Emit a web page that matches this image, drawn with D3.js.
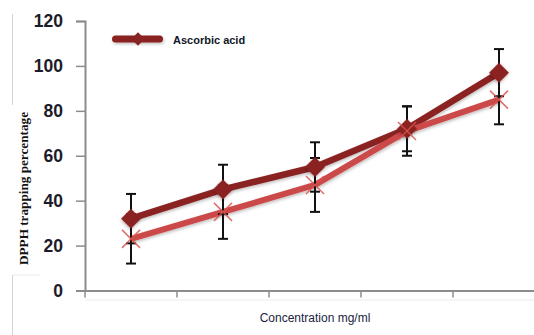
<!DOCTYPE html>
<html>
<head>
<meta charset="utf-8">
<script src="https://cdn.jsdelivr.net/npm/d3@7"></script>
<style>
  html, body { margin: 0; padding: 0; background: #fff; }
  svg { display: block; }
</style>
</head>
<body>
<svg id="chart" width="534" height="335"></svg>
<script>
// ---- data ----
const categories = ["1", "2", "3", "4", "5"];
const ascorbicValues = [32, 45, 55, 72, 97];
const ascorbicErrors = [11, 11, 11, 10, 10.5];
const sampleValues = [23, 35, 47, 71, 85];
const sampleErrors = [11, 12, 12, 11, 11];
const yTicks = [0, 20, 40, 60, 80, 100, 120];
const legendLabel = "Ascorbic acid";
const xTitle = "Concentration mg/ml";
const yTitle = "DPPH trapping percentage";

(function () {
// ---- layout ----
const svg = d3.select("#chart");
const plotLeft = 85, plotRight = 545, plotTop = 21, plotBottom = 290.5;
const darkRed = "#8a2424";
const lightRed = "#cc4a48";

const x = d3.scaleBand().domain(categories).range([plotLeft, plotRight]).paddingInner(0).paddingOuter(0);
const cx = d => x(d) + x.bandwidth() / 2;
const y = d3.scaleLinear().domain([0, 120]).range([plotBottom, plotTop]);

// frame line at far left
svg.append("line").attr("x1", 12.5).attr("x2", 12.5).attr("y1", 14).attr("y2", 105)
  .attr("stroke", "#d4d4d4").attr("stroke-width", 1);
svg.append("line").attr("x1", 12.5).attr("x2", 12.5).attr("y1", 275).attr("y2", 335)
  .attr("stroke", "#d4d4d4").attr("stroke-width", 1);
svg.append("line").attr("x1", 12.5).attr("x2", 40).attr("y1", 275).attr("y2", 275)
  .attr("stroke", "#ececec").attr("stroke-width", 1);

// faint line below x axis
svg.append("line").attr("x1", plotLeft).attr("x2", 534).attr("y1", 300).attr("y2", 300)
  .attr("stroke", "#ececec").attr("stroke-width", 1);

// y axis
const yAxis = svg.append("g").attr("transform", `translate(${plotLeft},0)`)
  .call(d3.axisLeft(y).tickValues(yTicks).tickSize(9).tickPadding(13).tickFormat(d3.format("d")));
yAxis.select(".domain").attr("stroke", "#8c8c8c").attr("stroke-width", 2);
yAxis.selectAll(".tick line").attr("stroke", "#8c8c8c").attr("stroke-width", 1.5);
yAxis.selectAll(".tick text")
  .attr("font-family", "Liberation Sans, Arial, sans-serif")
  .attr("font-size", 17.5).attr("font-weight", "bold").attr("fill", "#1b1b2a");

// x axis
const xAxis = svg.append("g").attr("transform", `translate(0,${plotBottom})`)
  .call(d3.axisBottom(x).tickSize(0).tickFormat(""));
xAxis.select(".domain").attr("stroke", "#8c8c8c").attr("stroke-width", 2);
xAxis.selectAll(".tick").remove();
const boundaries = categories.map(c => x(c));
xAxis.selectAll(".btick").data(boundaries).enter().append("line")
  .attr("x1", d => d).attr("x2", d => d).attr("y1", 0).attr("y2", 7)
  .attr("stroke", "#8c8c8c").attr("stroke-width", 1.5);

// titles
svg.append("text").attr("x", 315).attr("y", 322).attr("text-anchor", "middle")
  .attr("font-family", "Liberation Sans, Arial, sans-serif").attr("font-size", 12)
  .attr("fill", "#1b2440").text(xTitle);
svg.append("text")
  .attr("transform", "translate(28,188.5) rotate(-90)")
  .attr("text-anchor", "middle")
  .attr("font-family", "Liberation Serif, Times New Roman, serif").attr("font-size", 11.5)
  .attr("font-weight", "bold").attr("fill", "#111")
  .attr("textLength", 153).attr("lengthAdjust", "spacingAndGlyphs")
  .text(yTitle);

// shadow filter
const defs = svg.append("defs");
const f = defs.append("filter").attr("id", "sh").attr("x", "-50%").attr("y", "-50%").attr("width", "200%").attr("height", "200%");
f.append("feDropShadow").attr("dx", 1).attr("dy", 1.5).attr("stdDeviation", 1.5)
  .attr("flood-color", "#000").attr("flood-opacity", 0.25);

const line = d3.line().x((d, i) => cx(categories[i])).y(d => y(d));

// lines
svg.append("path").datum(ascorbicValues).attr("d", line)
  .attr("fill", "none").attr("stroke", darkRed).attr("stroke-width", 6.5)
  .attr("stroke-linejoin", "round").attr("filter", "url(#sh)");
svg.append("path").datum(sampleValues).attr("d", line)
  .attr("fill", "none").attr("stroke", lightRed).attr("stroke-width", 6)
  .attr("stroke-linejoin", "round").attr("filter", "url(#sh)");

// error bars
function errorBars(vals, errs) {
  const g = svg.append("g").attr("stroke", "#111").attr("stroke-width", 2);
  vals.forEach((v, i) => {
    const xc = cx(categories[i]);
    const hi = y(v + errs[i]), lo = y(v - errs[i]);
    g.append("line").attr("x1", xc).attr("x2", xc).attr("y1", hi).attr("y2", lo);
    g.append("line").attr("x1", xc - 5).attr("x2", xc + 5).attr("y1", hi).attr("y2", hi);
    g.append("line").attr("x1", xc - 5).attr("x2", xc + 5).attr("y1", lo).attr("y2", lo);
  });
}
errorBars(ascorbicValues, ascorbicErrors);
errorBars(sampleValues, sampleErrors);

// diamond markers
const diamond = d3.symbol().type(d3.symbolSquare).size(200);
svg.append("g").selectAll("path").data(ascorbicValues).enter().append("path")
  .attr("d", diamond)
  .attr("transform", (d, i) => `translate(${cx(categories[i])},${y(d)}) rotate(45)`)
  .attr("fill", darkRed).attr("filter", "url(#sh)");

// x markers
const xs = svg.append("g").attr("stroke", "#d9534f").attr("stroke-width", 1.5).attr("stroke-opacity", 0.85);
sampleValues.forEach((v, i) => {
  const xc = cx(categories[i]), yc = y(v), r = 9;
  xs.append("line").attr("x1", xc - r).attr("x2", xc + r).attr("y1", yc - r).attr("y2", yc + r);
  xs.append("line").attr("x1", xc - r).attr("x2", xc + r).attr("y1", yc + r).attr("y2", yc - r);
});

// legend
const lg = svg.append("g");
lg.append("rect").attr("x", 112).attr("y", 35.5).attr("width", 51).attr("height", 7).attr("rx", 3.5)
  .attr("fill", darkRed).attr("filter", "url(#sh)");
lg.append("path").attr("d", d3.symbol().type(d3.symbolSquare).size(90))
  .attr("transform", "translate(138,39) rotate(45)").attr("fill", darkRed);
lg.append("text").attr("x", 173).attr("y", 43.5)
  .attr("font-family", "Liberation Sans, Arial, sans-serif").attr("font-size", 11)
  .attr("font-weight", "bold").attr("fill", "#101828").text(legendLabel);
})();
</script>
</body>
</html>
